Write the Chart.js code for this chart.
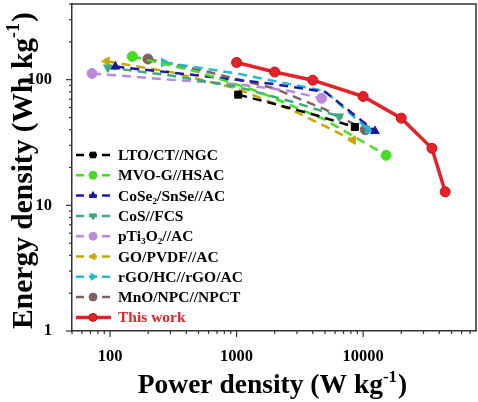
<!DOCTYPE html>
<html lang="en">
<head>
<meta charset="UTF-8" />
<title>Ragone plot</title>
<script src="https://cdn.jsdelivr.net/npm/chart.js"></script>
<style>
  html, body { margin: 0; padding: 0; background: #fff; overflow: hidden; }
  #wrap { width: 478px; height: 402px; position: relative; }
  canvas { display: block; }
</style>
</head>
<body>
<div id="wrap"><canvas id="ragone"></canvas></div>
<script>
// ---- data (power W/kg, energy Wh/kg) ----
const seriesNames = ["LTO/CT//NGC", "MVO-G//HSAC", "CoSe₂/SnSe//AC", "CoS//FCS",
  "pTi₃O₂//AC", "GO/PVDF//AC", "rGO/HC//rGO/AC", "MnO/NPC//NPCT", "This work"];

const ltoP = [1030, 2000, 4000, 8600];
const ltoE = [76, 64, 53, 42];
const mvoP = [150, 500, 1500, 5000, 15200];
const mvoE = [153, 115, 80, 48, 25];
const coseP = [110, 500, 2000, 5000, 12400];
const coseE = [127, 108, 92, 80, 39];
const cosP = [96, 300, 1000, 3000, 6460];
const cosE = [125, 108, 88, 65, 51];
const ptiP = [72, 300, 1000, 2500, 4700];
const ptiE = [112, 100, 92, 82, 71];
const goP = [94, 300, 1000, 3000, 8300];
const goE = [140, 115, 85, 55, 33];
const rgoP = [267, 1000, 5000, 11000];
const rgoE = [137, 112, 81, 40];
const mnoP = [199, 600, 2000, 5000, 10400];
const mnoE = [146, 115, 85, 58, 40];
const thisP = [1000, 2000, 4000, 10000, 20000, 35000, 44500];
const thisE = [137, 115, 99, 73.5, 49.4, 28.4, 12.8];

const xTicks = [100, 1000, 10000];
const yTicks = [1, 10, 100];

const colors = ["#000000", "#44DD22", "#1A1AA8", "#3BAA7A", "#BB88DD", "#C8A800", "#22BBCC", "#806060", "#E4222A"];
const styles = ["rect", "circle", "triangle", "triangle", "circle", "triangle", "triangle", "circle", "circle"];
const rotations = [0, 0, 0, 180, 0, -90, 90, 0, 0];

const pairs = [[ltoP, ltoE], [mvoP, mvoE], [coseP, coseE], [cosP, cosE], [ptiP, ptiE],
  [goP, goE], [rgoP, rgoE], [mnoP, mnoE], [thisP, thisE]];

const serif = "'Liberation Serif', 'Times New Roman', serif";

const datasets = pairs.map(([px, py], i) => {
  const mine = i === 8;
  return {
    label: seriesNames[i],
    data: px.map((p, k) => ({ x: p, y: py[k] })),
    borderColor: colors[i],
    backgroundColor: colors[i],
    borderWidth: mine ? 3.5 : 2.5,
    borderDash: mine ? [] : [9, 6],
    pointStyle: styles[i],
    rotation: rotations[i],
    pointRadius: mine ? 5 : (ctx => (ctx.dataIndex === 0 || ctx.dataIndex === px.length - 1) ? 5 : 0),
    pointBorderWidth: 1,
    pointBorderColor: mine ? "#C81010" : colors[i],
    tension: 0,
    order: mine ? 0 : 1
  };
});

// kill the label padding chart.js adds, keep fixed axis sizes
const noPad = s => { s.paddingTop = 0; s.paddingBottom = 0; s.paddingLeft = 0; s.paddingRight = 0; };

// axis ticks, frame, axis titles and legend
const decorPlugin = {
  id: "decor",
  afterDraw(chart) {
    const { ctx, chartArea: a, scales: { x, y } } = chart;
    ctx.save();
    ctx.strokeStyle = "#333";
    ctx.lineWidth = 1.5;
    ctx.beginPath();
    ctx.moveTo(a.left, a.top);
    ctx.lineTo(a.right, a.top);
    ctx.lineTo(a.right, a.bottom);
    ctx.stroke();

    ctx.lineWidth = 1.2;
    for (let d = 0; d <= 2; d++) {
      for (let m = 1; m <= 9; m++) {
        const v = m * Math.pow(10, d);
        if (v < y.min || v > y.max) continue;
        const py = y.getPixelForValue(v);
        const len = m === 1 ? 6 : 3;
        ctx.beginPath();
        ctx.moveTo(a.left - len, py);
        ctx.lineTo(a.left, py);
        ctx.stroke();
      }
    }
    for (let d = 1; d <= 4; d++) {
      for (let m = 1; m <= 9; m++) {
        const v = m * Math.pow(10, d);
        if (v < x.min || v > x.max) continue;
        const px = x.getPixelForValue(v);
        const len = m === 1 ? 6 : 3;
        ctx.beginPath();
        ctx.moveTo(px, a.bottom);
        ctx.lineTo(px, a.bottom + len);
        ctx.stroke();
      }
    }

    // axis titles with superscripts
    const drawTitle = (base, sup, tail, cx, cy, rot, size) => {
      ctx.save();
      ctx.translate(cx, cy);
      ctx.rotate(rot);
      ctx.fillStyle = "#000";
      ctx.textBaseline = "middle";
      const big = "bold " + size + "px " + serif, small = "bold " + Math.round(size * 0.6) + "px " + serif;
      ctx.font = big; const w1 = ctx.measureText(base).width; const w3 = ctx.measureText(tail).width;
      ctx.font = small; const w2 = ctx.measureText(sup).width;
      let sx = -(w1 + w2 + w3) / 2;
      ctx.font = big; ctx.fillText(base, sx, 0);
      ctx.font = small; ctx.fillText(sup, sx + w1, -size * 0.32);
      ctx.font = big; ctx.fillText(tail, sx + w1 + w2 + 1, 0);
      ctx.restore();
    };
    drawTitle("Power density (W kg", "-1", ")", 272, 386, 0, 27.5);
    drawTitle("Energy density (Wh kg", "-1", ")", 24, 171, -Math.PI / 2, 29.5);

    // legend
    ctx.font = "bold 15.5px " + serif;
    ctx.textBaseline = "middle";
    chart.data.datasets.forEach((ds, i) => {
      const ly = 155 + i * 20.3;
      ctx.save();
      ctx.strokeStyle = ds.borderColor;
      ctx.lineWidth = ds.borderWidth;
      ctx.setLineDash(i === 8 ? [] : [8, 5]);
      ctx.beginPath();
      ctx.moveTo(76, ly);
      ctx.lineTo(111, ly);
      ctx.stroke();
      ctx.setLineDash([]);
      ctx.fillStyle = ds.backgroundColor;
      ctx.strokeStyle = ds.pointBorderColor;
      ctx.lineWidth = 1;
      Chart.helpers.drawPoint(ctx, {
        pointStyle: ds.pointStyle, rotation: ds.rotation, radius: 4, borderWidth: 1
      }, 93, ly);
      ctx.restore();
      ctx.fillStyle = i === 8 ? "#E4222A" : "#000";
      ctx.fillText(ds.label, 118, ly + 1);
    });
    ctx.restore();
  }
};

new Chart(document.getElementById("ragone"), {
  type: "line",
  data: { datasets },
  options: {
    responsive: true,
    maintainAspectRatio: false,
    animation: false,
    layout: { autoPadding: false, padding: { top: 4, right: 2, left: 0, bottom: 0 } },
    plugins: { legend: { display: false }, tooltip: { enabled: false } },
    scales: {
      x: {
        type: "logarithmic",
        min: 50,
        max: 78000,
        grid: { display: false },
        border: { display: true, color: "#333", width: 1.5 },
        afterBuildTicks: s => { s.ticks = xTicks.map(v => ({ value: v })); },
        afterFit: s => { s.height = 71; noPad(s); },
        ticks: {
          color: "#000",
          padding: 8,
          autoSkip: false,
          maxRotation: 0,
          font: { family: serif, size: 16.5, weight: "bold" },
          callback: v => String(v)
        }
      },
      y: {
        type: "logarithmic",
        min: 1,
        max: 400,
        grid: { display: false },
        border: { display: true, color: "#333", width: 1.5 },
        afterBuildTicks: s => { s.ticks = yTicks.map(v => ({ value: v })); },
        afterFit: s => { s.width = 72; noPad(s); },
        ticks: {
          color: "#000",
          padding: 12,
          autoSkip: false,
          font: { family: serif, size: 16.5, weight: "bold" },
          callback: v => String(v)
        }
      }
    }
  },
  plugins: [decorPlugin]
});
</script>
</body>
</html>
